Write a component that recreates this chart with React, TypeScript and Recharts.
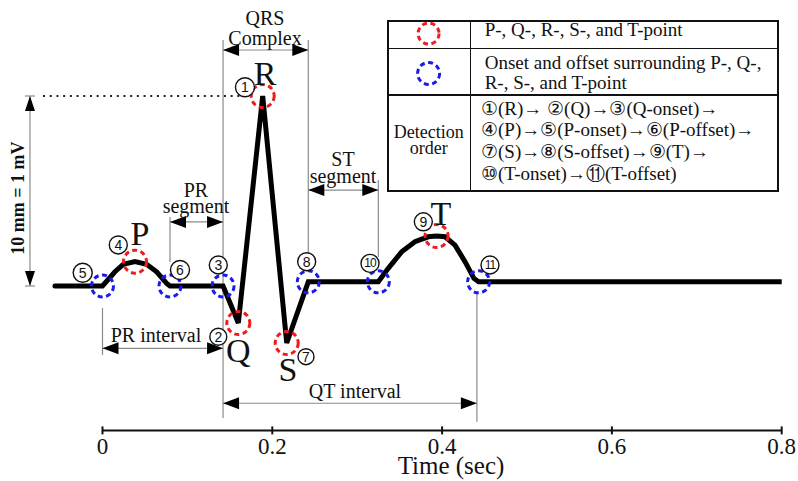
import React from "react";
import { LineChart, Line, XAxis, YAxis, ReferenceLine, ReferenceDot } from "recharts";

// ECG trace (time in seconds, amplitude in mV)
const timeSec = [
  -0.056, 0, 0.0147, 0.0245, 0.0383, 0.052, 0.0638, 0.0756, 0.0795, 0.142, 0.16, 0.1887, 0.217,
  0.2424, 0.3249, 0.3366, 0.3524, 0.368, 0.3837, 0.3935, 0.4034, 0.4152, 0.427, 0.4375, 0.443, 0.8,
];
const amplitudeMv = [
  0, 0, 0.075, 0.114, 0.128, 0.114, 0.075, 0.014, 0, 0, -0.195, 1.0, -0.3, 0.022, 0.022, 0.093,
  0.18, 0.233, 0.259, 0.263, 0.259, 0.215, 0.128, 0.04, 0.022, 0.022,
];
const xTicks = [0, 0.2, 0.4, 0.6, 0.8];

// detected points (indices into the trace)
const peakIdx = [11, 10, 4, 12, 19]; // R, Q, P, S, T
const boundIdx = [1, 8, 9, 13, 14, 24]; // P-onset, P-offset, Q-onset, S-offset, T-onset, T-offset

const peakLetters = [
  { text: "R", t: 0.1914, v: 1.058 },
  { text: "P", t: 0.0442, v: 0.216 },
  { text: "Q", t: 0.16, v: -0.4 },
  { text: "S", t: 0.2185, v: -0.5 },
  { text: "T", t: 0.3987, v: 0.321 },
];

const orderMarks = [
  { n: 1, t: 0.1678, v: 1.046, r: 9.5 },
  { n: 2, t: 0.1364, v: -0.267, r: 8.5 },
  { n: 3, t: 0.1364, v: 0.1105, r: 9 },
  { n: 4, t: 0.0186, v: 0.216, r: 9 },
  { n: 5, t: -0.0233, v: 0.07, r: 9.5 },
  { n: 6, t: 0.0913, v: 0.084, r: 9.5 },
  { n: 7, t: 0.2397, v: -0.372, r: 8 },
  { n: 8, t: 0.2405, v: 0.128, r: 9 },
  { n: 9, t: 0.3779, v: 0.338, r: 9 },
  { n: 10, t: 0.3151, v: 0.119, r: 9 },
  { n: 11, t: 0.4564, v: 0.1105, r: 9 },
];

const notes = [
  { text: "QRS", t: 0.1914, v: 1.374 },
  { text: "Complex", t: 0.1914, v: 1.268 },
  { text: "PR", t: 0.1101, v: 0.47 },
  { text: "segment", t: 0.1101, v: 0.383 },
  { text: "ST", t: 0.2833, v: 0.634 },
  { text: "segment", t: 0.2833, v: 0.543 },
  { text: "PR interval", t: 0.063, v: -0.293 },
  { text: "QT interval", t: 0.2974, v: -0.589 },
];

const guides = [
  { t: 0.142, v1: 1.295, v2: -0.695 },
  { t: 0.2424, v1: 1.295, v2: 0.153 },
  { t: 0.0795, v1: 0.363, v2: 0.126 },
  { t: 0.3249, v1: 0.558, v2: 0.153 },
  { t: 0, v1: -0.116, v2: -0.363 },
  { t: 0.441, v1: -0.037, v2: -0.714 },
];

const spans = [
  { t1: 0.142, t2: 0.2424, v: 1.242 },
  { t1: 0.0795, t2: 0.142, v: 0.337 },
  { t1: 0.2424, t2: 0.3249, v: 0.505 },
  { t1: 0, t2: 0.142, v: -0.328 },
  { t1: 0.142, t2: 0.441, v: -0.617 },
];

const trace = timeSec.map((t, i) => ({ t, mv: amplitudeMv[i] }));

const SERIF = '"Liberation Serif", "Times New Roman", serif';
const RED = "#ee1c1c";
const BLUE = "#1a1aee";

function arrowHead(px: number, py: number, ux: number, uy: number, hl: number, hw: number) {
  const bx = px - ux * hl;
  const by = py - uy * hl;
  return `${px},${py} ${bx - uy * hw},${by + ux * hw} ${bx + uy * hw},${by - ux * hw}`;
}

function DoubleArrow(props: any) {
  const { x1, y1, x2, y2, hl = 16, hw = 6 } = props;
  const len = Math.hypot(x2 - x1, y2 - y1) || 1;
  const ux = (x2 - x1) / len;
  const uy = (y2 - y1) / len;
  return (
    <g>
      <line x1={x1} y1={y1} x2={x2} y2={y2} stroke="#8a8a8a" strokeWidth={1.2} />
      <polygon points={arrowHead(x2, y2, ux, uy, hl, hw)} fill="#000" />
      <polygon points={arrowHead(x1, y1, -ux, -uy, hl, hw)} fill="#000" />
    </g>
  );
}

function AxisTick(props: any) {
  const { x, y, payload } = props;
  return (
    <g>
      <line x1={x} x2={x} y1={y - 4} y2={y + 4} stroke="#111" strokeWidth={2} />
      <text x={x} y={y + 24} textAnchor="middle" fontFamily={SERIF} fontSize={23} fill="#111">
        {String(payload.value)}
      </text>
    </g>
  );
}

function DetectionTable() {
  const base: React.CSSProperties = {
    position: "absolute",
    fontFamily: SERIF,
    fontSize: 19,
    color: "#111",
    whiteSpace: "nowrap",
  };
  return (
    <div style={{ position: "absolute", left: 386.7, top: 20, width: 392.6, height: 171.7 }}>
      <div style={{ position: "absolute", inset: 0, border: "2px solid #111" }} />
      <div style={{ position: "absolute", left: 0, right: 0, top: 27.5, height: 1.6, background: "#111" }} />
      <div style={{ position: "absolute", left: 0, right: 0, top: 74.2, height: 1.6, background: "#111" }} />
      <div style={{ position: "absolute", left: 83.2, top: 0, bottom: 0, width: 1.6, background: "#111" }} />
      <svg style={{ position: "absolute", left: 0, top: 0 }} width={84} height={75}>
        <circle cx={41.6} cy={13.6} r={10.5} fill="none" stroke={RED} strokeWidth={3} strokeDasharray="5 3.5" />
        <circle cx={41.6} cy={53.5} r={11} fill="none" stroke={BLUE} strokeWidth={3} strokeDasharray="5 3.5" />
      </svg>
      <div style={{ ...base, left: 98, top: -1.2, lineHeight: "21.7px" }}>P-, Q-, R-, S-, and T-point</div>
      <div style={{ ...base, left: 98, top: 33.3, lineHeight: "19.5px" }}>
        Onset and offset surrounding P-, Q-,
        <br />
        R-, S-, and T-point
      </div>
      <div style={{ ...base, fontSize: 18, left: 0, width: 84, top: 103.9, lineHeight: "16px", textAlign: "center" }}>
        Detection
        <br />
        order
      </div>
      <div style={{ ...base, left: 94.3, top: 77.7, lineHeight: "21.7px" }}>
        ①(R)→ ②(Q)→③(Q-onset)→
        <br />
        ④(P)→⑤(P-onset)→⑥(P-offset)→
        <br />
        ⑦(S)→⑧(S-offset)→⑨(T)→
        <br />
        ⑩(T-onset)→⑪(T-offset)
      </div>
    </div>
  );
}

export default function App() {
  return (
    <div style={{ position: "absolute", left: 0, top: 0, width: 798, height: 481, background: "#fff" }}>
      <LineChart width={798} height={481} data={trace} margin={{ top: 1, right: 16.3, bottom: 0.6, left: 0.6 }}>
        <XAxis
          type="number"
          dataKey="t"
          domain={[-0.12, 0.8]}
          allowDataOverflow
          ticks={xTicks}
          interval={0}
          axisLine={false}
          tickLine={false}
          tickSize={0}
          tickMargin={0}
          height={50}
          tick={(p: any) => <AxisTick {...p} />}
        />
        <YAxis type="number" domain={[-0.76, 1.5]} allowDataOverflow hide />

        {/* x axis line from 0 to 0.8 s */}
        <ReferenceLine
          segment={[{ x: 0, y: -0.76 }, { x: 0.8, y: -0.76 }]}
          stroke="#111"
          strokeWidth={2}
          ifOverflow="visible"
        />

        {guides.map((g, i) => (
          <ReferenceLine
            key={`g${i}`}
            segment={[{ x: g.t, y: g.v1 }, { x: g.t, y: g.v2 }]}
            stroke="#8a8a8a"
            strokeWidth={1.2}
            ifOverflow="visible"
          />
        ))}

        {spans.map((s, i) => (
          <ReferenceLine
            key={`s${i}`}
            segment={[{ x: s.t1, y: s.v }, { x: s.t2, y: s.v }]}
            ifOverflow="visible"
            shape={(p: any) => <DoubleArrow {...p} />}
          />
        ))}

        {/* 10 mm = 1 mV scale bar */}
        <ReferenceLine
          segment={[{ x: -0.0854, y: 0 }, { x: -0.0854, y: 1.0 }]}
          ifOverflow="visible"
          shape={(p: any) => <DoubleArrow {...p} hl={15} hw={5} />}
        />
        <ReferenceLine segment={[{ x: -0.0913, y: 1.0 }, { x: -0.0795, y: 1.0 }]} stroke="#8a8a8a" strokeWidth={1.2} ifOverflow="visible" />
        <ReferenceLine segment={[{ x: -0.0913, y: 0 }, { x: -0.0795, y: 0 }]} stroke="#8a8a8a" strokeWidth={1.2} ifOverflow="visible" />
        <ReferenceLine
          segment={[{ x: -0.07, y: 1.0 }, { x: 0.172, y: 1.0 }]}
          stroke="#222"
          strokeWidth={2}
          strokeDasharray="2 4.7"
          ifOverflow="visible"
        />
        <ReferenceDot
          x={-0.0995}
          y={0.463}
          r={0}
          ifOverflow="visible"
          shape={(p: any) => (
            <text
              x={p.cx}
              y={p.cy}
              transform={`rotate(-90 ${p.cx} ${p.cy})`}
              textAnchor="middle"
              dominantBaseline="central"
              fontFamily={SERIF}
              fontWeight="bold"
              fontSize={18}
              fill="#111"
            >
              10 mm = 1 mV
            </text>
          )}
        />

        <Line
          type="linear"
          dataKey="mv"
          stroke="#000"
          strokeWidth={5}
          strokeLinecap="round"
          dot={false}
          activeDot={false}
          isAnimationActive={false}
        />

        {peakIdx.map((i) => (
          <ReferenceDot
            key={`pk${i}`}
            x={timeSec[i]}
            y={amplitudeMv[i]}
            r={11.5}
            fill="none"
            stroke={RED}
            strokeWidth={3}
            strokeDasharray="5 3.5"
            ifOverflow="visible"
          />
        ))}
        {boundIdx.map((i) => (
          <ReferenceDot
            key={`bd${i}`}
            x={timeSec[i]}
            y={amplitudeMv[i]}
            r={11}
            fill="none"
            stroke={BLUE}
            strokeWidth={3}
            strokeDasharray="5 3.5"
            ifOverflow="visible"
          />
        ))}

        {peakLetters.map((l) => (
          <ReferenceDot
            key={`l${l.text}`}
            x={l.t}
            y={l.v}
            r={0}
            ifOverflow="visible"
            shape={(p: any) => (
              <text x={p.cx} y={p.cy} textAnchor="middle" fontFamily={SERIF} fontSize={34} fill="#111">
                {l.text}
              </text>
            )}
          />
        ))}

        {notes.map((n, i) => (
          <ReferenceDot
            key={`n${i}`}
            x={n.t}
            y={n.v}
            r={0}
            ifOverflow="visible"
            shape={(p: any) => (
              <text x={p.cx} y={p.cy} textAnchor="middle" fontFamily={SERIF} fontSize={20} fill="#111">
                {n.text}
              </text>
            )}
          />
        ))}

        {orderMarks.map((m) => (
          <ReferenceDot
            key={`o${m.n}`}
            x={m.t}
            y={m.v}
            r={m.r}
            ifOverflow="visible"
            shape={(p: any) => (
              <g>
                <circle cx={p.cx} cy={p.cy} r={m.r} fill="#fff" stroke="#111" strokeWidth={1.4} />
                <text
                  x={p.cx}
                  y={p.cy}
                  textAnchor="middle"
                  dominantBaseline="central"
                  fontFamily='"Liberation Sans", Arial, sans-serif'
                  fontSize={m.n > 9 ? 12 : 14}
                  letterSpacing={m.n > 9 ? -1 : 0}
                  fill="#111"
                >
                  {m.n}
                </text>
              </g>
            )}
          />
        ))}

        <ReferenceDot
          x={0.4105}
          y={-0.99}
          r={0}
          ifOverflow="visible"
          shape={(p: any) => (
            <text x={p.cx} y={p.cy} textAnchor="middle" fontFamily={SERIF} fontSize={25} fill="#111">
              Time (sec)
            </text>
          )}
        />
      </LineChart>
      <DetectionTable />
    </div>
  );
}
